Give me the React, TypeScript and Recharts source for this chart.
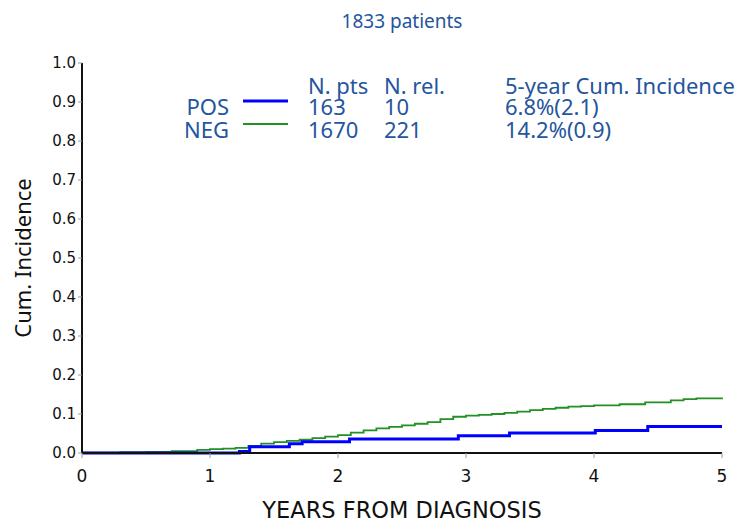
import { Line, LineChart, XAxis, YAxis } from "recharts";

// Cumulative incidence curves
type Pt = { t: number; v: number };

const posTimes = [0, 1.23, 1.31, 1.62, 1.72, 2.09, 2.94, 3.34, 4.01, 4.42, 5];
const posValues = [0, 0.004, 0.016, 0.024, 0.029, 0.036, 0.044, 0.051, 0.058, 0.068, 0.068];

const negTimes = [
  0, 0.3, 0.5, 0.7, 0.9, 1.0, 1.1, 1.2, 1.3, 1.4, 1.5, 1.6, 1.7, 1.8, 1.9, 2.0,
  2.1, 2.2, 2.3, 2.4, 2.5, 2.6, 2.7, 2.8, 2.9, 3.0, 3.1, 3.2, 3.3, 3.4, 3.5, 3.6,
  3.7, 3.8, 3.9, 4.0, 4.2, 4.4, 4.6, 4.7, 4.8, 5.0,
];
const negValues = [
  0.001, 0.002, 0.003, 0.005, 0.008, 0.01, 0.011, 0.013, 0.018, 0.024, 0.028,
  0.031, 0.034, 0.038, 0.042, 0.046, 0.052, 0.058, 0.063, 0.067, 0.071, 0.075,
  0.079, 0.087, 0.093, 0.096, 0.098, 0.1, 0.103, 0.106, 0.11, 0.113, 0.116,
  0.119, 0.12, 0.122, 0.125, 0.13, 0.135, 0.138, 0.14, 0.142,
];

const xTicks = [0, 1, 2, 3, 4, 5];
const yTicks = [0, 0.1, 0.2, 0.3, 0.4, 0.5, 0.6, 0.7, 0.8, 0.9, 1.0];

const groups = ["POS", "NEG"];
const groupColors = ["#0000ff", "#229022"];
const nPts = [163, 1670];
const nRel = [10, 221];
const cumInc = ["6.8%(2.1)", "14.2%(0.9)"];

const toPts = (ts: number[], vs: number[]): Pt[] =>
  ts.map((t, i) => ({ t, v: vs[i] }));

const posData = toPts(posTimes, posValues);
const negData = toPts(negTimes, negValues);

const W = 738;
const H = 522;
const txt = "#25559c";
const font = "'Noto Sans', sans-serif";
const dejavu = "'DejaVu Sans', sans-serif";

export default function App() {
  return (
    <div style={{ position: "absolute", left: 0, top: 0, width: W, height: H, background: "#fff" }}>
      <LineChart
        width={W}
        height={H}
        margin={{ top: 63, right: 16, bottom: 0, left: 0 }}
      >
        <XAxis
          dataKey="t"
          type="number"
          domain={[0, 5]}
          ticks={xTicks}
          allowDuplicatedCategory={false}
          height={69}
          axisLine={{ stroke: "#111", strokeWidth: 2 }}
          tickLine={{ stroke: "#999" }}
          tickSize={5}
          tickMargin={12}
          tick={{ fontSize: 17, fill: "#111", fontFamily: dejavu }}
          label={{
            value: "YEARS FROM DIAGNOSIS",
            position: "insideBottom",
            offset: 4,
            fontSize: 22.5,
            fill: "#111",
            fontFamily: dejavu,
          }}
        />
        <YAxis
          dataKey="v"
          type="number"
          domain={[0, 1]}
          ticks={yTicks}
          width={82}
          axisLine={{ stroke: "#111", strokeWidth: 2 }}
          tickLine={{ stroke: "#999" }}
          tickSize={4}
          tickMargin={2}
          tickFormatter={(v: number) => v.toFixed(1)}
          tick={{ fontSize: 15, fill: "#111", fontFamily: dejavu }}
          label={{
            value: "Cum. Incidence",
            angle: -90,
            position: "insideLeft",
            offset: 23,
            style: { textAnchor: "middle" },
            fontSize: 22,
            fill: "#111",
            fontFamily: font,
          }}
        />
        <Line
          data={negData}
          dataKey="v"
          type="stepAfter"
          stroke={groupColors[1]}
          strokeWidth={1.8}
          dot={false}
          isAnimationActive={false}
        />
        <Line
          data={posData}
          dataKey="v"
          type="stepAfter"
          stroke={groupColors[0]}
          strokeWidth={3}
          dot={false}
          isAnimationActive={false}
        />
      </LineChart>
      <svg
        width={W}
        height={H}
        style={{ position: "absolute", left: 0, top: 0, pointerEvents: "none" }}
        fontFamily={font}
      >
        <text x={402} y={28} textAnchor="middle" fontSize={19} fill={txt}>
          1833 patients
        </text>
        <text x={308} y={94} fontSize={22} fill={txt}>N. pts</text>
        <text x={384} y={94} fontSize={22} fill={txt}>N. rel.</text>
        <text x={505} y={94} fontSize={22} fill={txt}>5-year Cum. Incidence</text>
        {groups.map((g, i) => {
          const y = 115 + i * 23;
          return (
            <g key={g}>
              <text x={229} y={y} textAnchor="end" fontSize={22} fill={txt}>{g}</text>
              <line
                x1={243}
                x2={288}
                y1={y - 14}
                y2={y - 14}
                stroke={groupColors[i]}
                strokeWidth={i === 0 ? 3 : 2}
              />
              <text x={308} y={y} fontSize={22} fill={txt}>{nPts[i]}</text>
              <text x={384} y={y} fontSize={22} fill={txt}>{nRel[i]}</text>
              <text x={505} y={y} fontSize={22} fill={txt}>{cumInc[i]}</text>
            </g>
          );
        })}
      </svg>
    </div>
  );
}
